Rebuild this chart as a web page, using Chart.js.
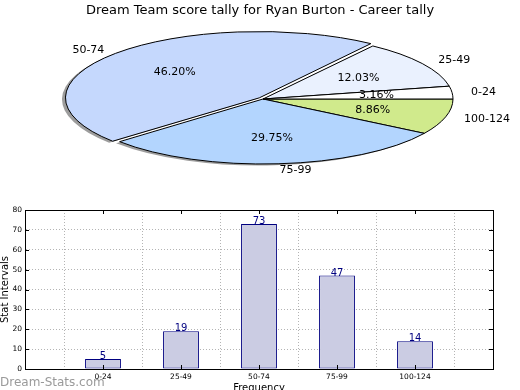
<!DOCTYPE html>
<html><head><meta charset="utf-8">
<script src="https://cdn.jsdelivr.net/npm/chart.js@4"></script>
<style>
html,body{margin:0;padding:0;background:#fff;overflow:hidden;width:520px;height:390px}
#wrap{position:relative;width:520px;height:390px;overflow:hidden}
canvas{position:absolute;left:0;top:0}
</style></head><body>
<div id="wrap">
<canvas id="bar" width="520" height="400" style="width:520px;height:400px"></canvas>
<canvas id="pie" width="520" height="390" style="width:520px;height:390px;pointer-events:none"></canvas>
</div>
<script>
// ---- data ----
const chartTitle = 'Dream Team score tally for Ryan Burton - Career tally';
const categories = ['0-24', '25-49', '50-74', '75-99', '100-124'];
const counts = [5, 19, 73, 47, 14];
const pieColors = ['#ffffff', '#eaf1fe', '#c5d8fd', '#b3d5fe', '#d0ea8c'];
const explodeCategory = '50-74';
const xAxisTitle = 'Frequency';
const yAxisTitle = 'Stat Intervals';
const watermark = 'Dream-Stats.com';

Chart.defaults.font.family = '"DejaVu Sans", sans-serif';
Chart.defaults.color = '#000';

// ---- pie (flattened, matplotlib style) ----
const PIE = {cx: 263, cy: 99, rx: 190, ry: 65, sdx: -3.5, sdy: 1.5};
const K = PIE.ry / PIE.rx;

const ellipsePlugin = {
  id: 'ellipse',
  beforeDatasetsDraw(chart) {
    const ctx = chart.ctx;
    const meta = chart.getDatasetMeta(0);
    const ex = meta.data[0].x, ey = meta.data[0].y;
    const proto = CanvasRenderingContext2D.prototype;
    // shadow pass
    ctx.save();
    ctx.setTransform(1, 0, 0, K, PIE.cx - ex + PIE.sdx, PIE.cy - ey * K + PIE.sdy);
    ctx.fill = function () { this.fillStyle = 'rgba(60,60,60,0.5)'; return proto.fill.apply(this, arguments); };
    ctx.stroke = function () {};
    meta.data.forEach(el => el.draw(ctx));
    delete ctx.fill; delete ctx.stroke;
    ctx.restore();
    // main pass: squash into an ellipse, keep stroke widths uniform
    ctx.save();
    ctx.setTransform(1, 0, 0, K, PIE.cx - ex, PIE.cy - ey * K);
    ctx.stroke = function () {
      this.save(); this.setTransform(1, 0, 0, 1, 0, 0);
      proto.stroke.apply(this, arguments); this.restore();
    };
  },
  afterDatasetsDraw(chart) {
    const ctx = chart.ctx;
    delete ctx.stroke;
    ctx.restore();
    const meta = chart.getDatasetMeta(0);
    const data = chart.data.datasets[0].data;
    ctx.save();
    ctx.font = '11px "DejaVu Sans"';
    ctx.fillStyle = '#000';
    ctx.textBaseline = 'middle';
    meta.data.forEach((el, j) => {
      const a = (el.startAngle + el.endAngle) / 2;
      const off = (el.options.offset || 0) / 4;
      const c = Math.cos(a), s = Math.sin(a);
      const ox = c * off, oy = s * off * K;
      ctx.textAlign = c > 0 ? 'left' : 'right';
      ctx.fillText(chart.data.labels[j], PIE.cx + 1.1 * PIE.rx * c + ox, PIE.cy + 1.1 * PIE.ry * s + oy);
      ctx.textAlign = 'center';
      const pct = (100 * data[j] / meta.total).toFixed(2) + '%';
      ctx.fillText(pct, PIE.cx + 0.6 * PIE.rx * c + ox, PIE.cy + 0.6 * PIE.ry * s + oy);
    });
    ctx.restore();
  }
};

const pieOrder = categories.map((c, i) => i).reverse();
new Chart(document.getElementById('pie'), {
  type: 'pie',
  data: {
    labels: pieOrder.map(i => categories[i]),
    datasets: [{
      data: pieOrder.map(i => counts[i]),
      backgroundColor: pieOrder.map(i => pieColors[i]),
      borderColor: '#000',
      borderWidth: 1,
      offset: pieOrder.map(i => categories[i] === explodeCategory ? 20 : 0),
      radius: PIE.rx
    }]
  },
  options: {
    responsive: false, animation: false, devicePixelRatio: 1, events: [],
    rotation: 90,
    plugins: {
      legend: {display: false}, tooltip: {enabled: false},
      title: {display: true, text: chartTitle, color: '#000',
        font: {size: 13, weight: 'normal'}, padding: {top: 3, bottom: 4}}
    }
  },
  plugins: [ellipsePlugin]
});

// ---- bar chart ----
const xLabels = [''].concat(categories, ['']);
const xValues = [null].concat(counts, [null]);

const barDecor = {
  id: 'barDecor',
  afterDatasetsDraw(chart) {
    const ctx = chart.ctx;
    const meta = chart.getDatasetMeta(0);
    ctx.save();
    ctx.font = '10px "DejaVu Sans"';
    ctx.fillStyle = '#000080';
    ctx.textAlign = 'center';
    ctx.textBaseline = 'alphabetic';
    meta.data.forEach((el, i) => {
      const v = chart.data.datasets[0].data[i];
      if (v === null) return;
      ctx.fillText(String(v), el.x, el.y);
    });
    ctx.restore();
  },
  afterDraw(chart) {
    const ctx = chart.ctx;
    const a = chart.chartArea;
    const ys = chart.scales.y, xs = chart.scales.x;
    ctx.save();
    ctx.strokeStyle = '#000';
    ctx.lineWidth = 1;
    ctx.beginPath();
    ys.ticks.forEach(t => {
      const y = Math.round(ys.getPixelForValue(t.value)) + 0.5;
      ctx.moveTo(a.left, y); ctx.lineTo(a.left + 4, y);
      ctx.moveTo(a.right, y); ctx.lineTo(a.right - 4, y);
    });
    for (let i = 1; i < xLabels.length - 1; i++) {
      const x = Math.round(xs.getPixelForValue(i)) + 0.5;
      ctx.moveTo(x, a.bottom); ctx.lineTo(x, a.bottom - 4);
      ctx.moveTo(x, a.top); ctx.lineTo(x, a.top + 4);
    }
    ctx.stroke();
    ctx.strokeRect(Math.round(a.left) + 0.5, Math.round(a.top) + 0.5,
      Math.round(a.right - a.left), Math.round(a.bottom - a.top));
    ctx.font = '12px "DejaVu Sans"';
    ctx.fillStyle = '#9a9a9a';
    ctx.textAlign = 'left';
    ctx.textBaseline = 'alphabetic';
    ctx.fillText(watermark, 0, 386);
    ctx.restore();
  }
};

const gridOpts = {color: '#b4b4b4', lineWidth: 1, drawTicks: false};
new Chart(document.getElementById('bar'), {
  type: 'bar',
  data: {
    labels: xLabels,
    datasets: [{
      data: xValues,
      backgroundColor: '#cbcce3',
      borderColor: '#000080',
      borderWidth: 1,
      borderSkipped: false,
      barPercentage: 0.46,
      categoryPercentage: 1
    }]
  },
  options: {
    responsive: false, animation: false, devicePixelRatio: 1, events: [],
    layout: {padding: {top: 210, right: 27, left: 0, bottom: 0}},
    plugins: {legend: {display: false}, tooltip: {enabled: false}},
    scales: {
      x: {
        type: 'category', offset: false, z: 1,
        grid: gridOpts,
        border: {display: true, color: '#000', width: 1, dash: [1, 2]},
        ticks: {autoSkip: false, maxRotation: 0, minRotation: 0, font: {size: 7.5}, color: '#000', padding: 4},
        title: {display: true, text: xAxisTitle, color: '#000', font: {size: 10}, padding: {top: 0, bottom: 6}},
        afterFit(s) { s.height = 31; }
      },
      y: {
        min: 0, max: 80, z: 1,
        grid: gridOpts,
        border: {display: true, color: '#000', width: 1, dash: [1, 2]},
        ticks: {stepSize: 10, font: {size: 7.5}, color: '#000', padding: 3},
        title: {display: true, text: yAxisTitle, color: '#000', font: {size: 10}, padding: {top: -1, bottom: 0}},
        afterFit(s) { s.width = 25; }
      }
    }
  },
  plugins: [barDecor]
});
</script>
</body></html>
